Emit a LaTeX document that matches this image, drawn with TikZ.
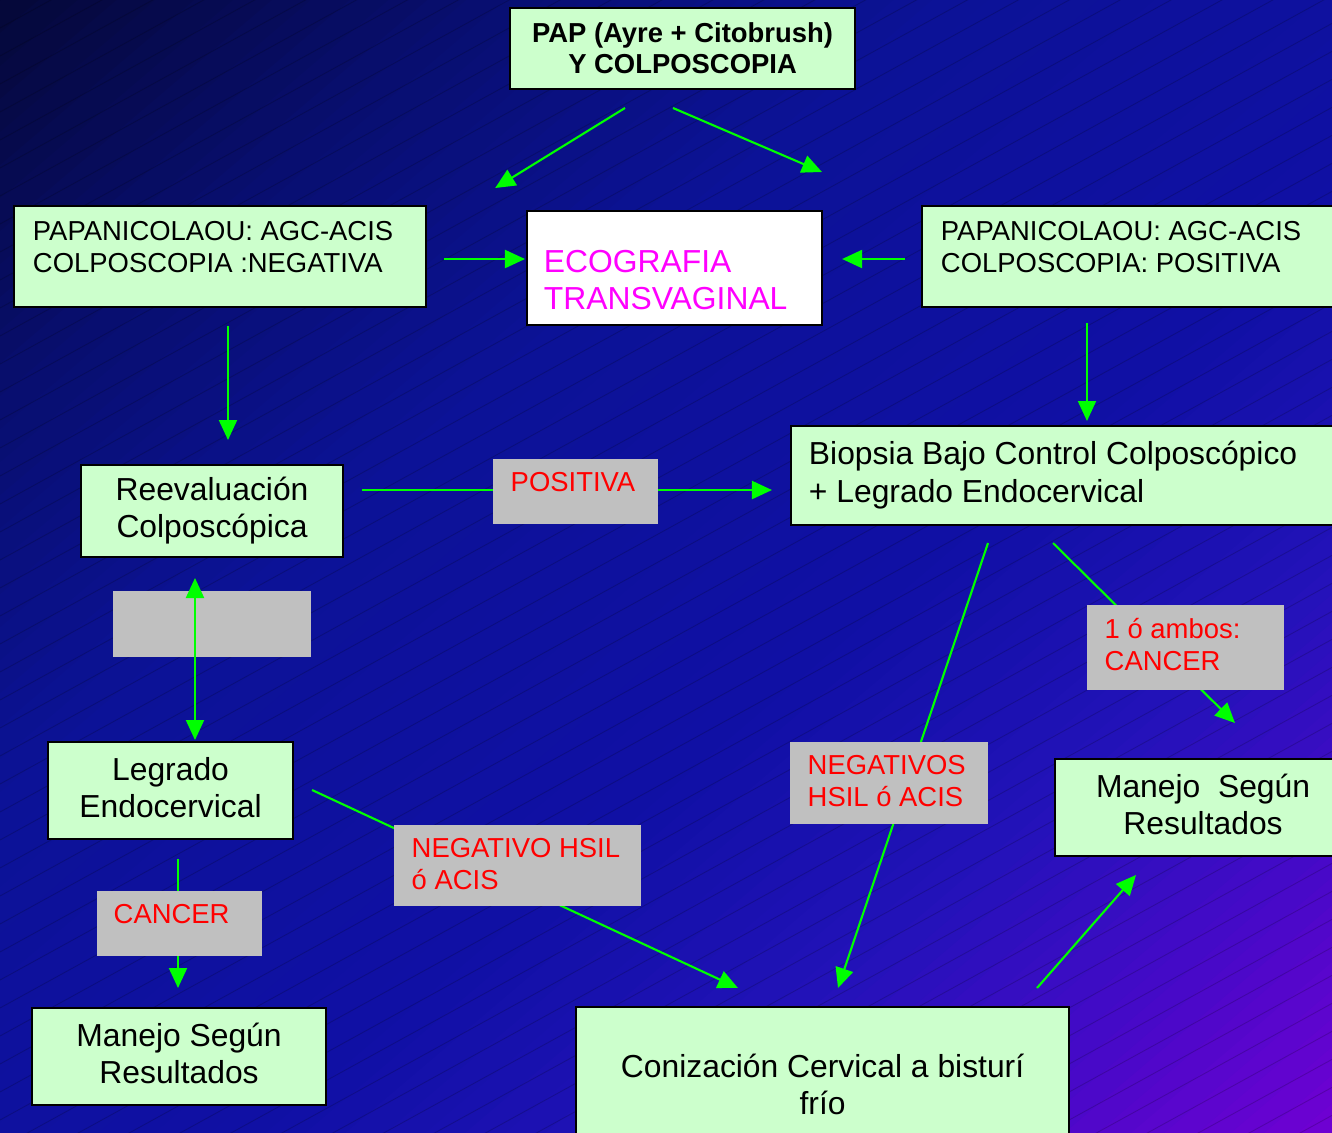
\documentclass[tikz,border=0pt]{standalone}
\usepackage{fontspec}
\setmainfont{Liberation Sans}
\usetikzlibrary{arrows.meta,calc}
\definecolor{boxg}{RGB}{204,255,204}
\definecolor{grayb}{RGB}{192,192,192}
\definecolor{arrg}{RGB}{0,255,0}
\definecolor{magt}{RGB}{255,0,255}
\definecolor{bga}{RGB}{5,8,56}
\definecolor{bgb}{RGB}{8,14,110}
\definecolor{bgc}{RGB}{12,18,150}
\definecolor{bgd}{RGB}{16,16,165}
\definecolor{bge}{RGB}{35,18,185}
\definecolor{bgf}{RGB}{70,10,200}
\definecolor{bgg}{RGB}{112,0,210}
\newcommand\fsm{\fontsize{7.8pt}{9.1pt}\selectfont}
\newcommand\fbg{\fontsize{9.05pt}{10.55pt}\selectfont}
\newcommand\dpx{\rule[-0.06cm]{0pt}{0pt}}
\newcommand\tlt[5]{\parbox[c][#2cm][t]{#1cm}{\vspace*{#4cm}\raggedright\leftskip=#3cm\relax #5}}
\newcommand\bgseg[5]{\foreach \k in {1,...,#5}{%
  \pgfmathsetmacro\sa{#1+(#2-#1)*(\k-1)/#5}%
  \pgfmathsetmacro\sb{#1+(#2-#1)*\k/#5+0.003}%
  \pgfmathsetmacro\pc{100*(\k-0.5)/#5}%
  \fill[#4!\pc!#3] (1332*\sa,0) -- (1332*\sb,0) -- (0,1132*\sb) -- (0,1132*\sa) -- cycle;}}
\begin{document}
\begin{tikzpicture}[x=0.01cm,y=-0.01cm,
  gbox/.style={draw=black, line width=0.55pt, fill=boxg, inner sep=0pt, anchor=north west},
  cbox/.style={gbox, align=center, font=\fbg},
  greyl/.style={fill=grayb, inner sep=0pt, anchor=north west, text=red, font=\fsm},
  conn/.style={draw=arrg, line width=0.6pt, -{Triangle[length=0.2cm,width=0.18cm]}},
  connb/.style={draw=arrg, line width=0.6pt, {Triangle[length=0.2cm,width=0.18cm]}-{Triangle[length=0.2cm,width=0.18cm]}}]
\useasboundingbox (0,0) rectangle (1332,1132);
\clip (0,0) rectangle (1332,1132);
% background
\bgseg{0}{0.35}{bga}{bgb}{12}
\bgseg{0.35}{0.7}{bgb}{bgc}{12}
\bgseg{0.7}{1.2}{bgc}{bgd}{12}
\bgseg{1.2}{1.5}{bgd}{bge}{10}
\bgseg{1.5}{1.75}{bge}{bgf}{10}
\bgseg{1.75}{2.0}{bgf}{bgg}{10}
\foreach \c in {0,28,...,1876} \draw[black, opacity=0.18, line width=0.25pt] (0,\c) -- (1332,\c-732.6);
% green boxes
\node[cbox, font=\bfseries\fontsize{7.8pt}{8.8pt}\selectfont, minimum width=3.45cm, minimum height=0.81cm] (pap) at (509,7) {PAP (Ayre + Citobrush)\\Y COLPOSCOPIA};
\node[gbox, font=\fsm] (lpap) at (13,205) {\tlt{4.12}{1.01}{0.19}{0.15}{PAPANICOLAOU: AGC-ACIS\\COLPOSCOPIA :NEGATIVA}};
\node[gbox, fill=white, text=magt, font=\fbg] (eco) at (526,210) {\tlt{2.95}{1.14}{0.17}{0.39}{ECOGRAFIA\\TRANSVAGINAL}};
\node[gbox, font=\fsm] (rpap) at (921,205) {\tlt{4.30}{1.01}{0.19}{0.15}{PAPANICOLAOU: AGC-ACIS\\COLPOSCOPIA: POSITIVA}};
\node[cbox, minimum width=2.62cm, minimum height=0.92cm] (reev) at (80,464) {Reevaluación\\Colposcópica};
\node[gbox, font=\fbg] (biop) at (790,425) {\tlt{5.60}{0.99}{0.18}{0.155}{Biopsia Bajo Control Colposcópico\\+ Legrado Endocervical}};
\node[cbox, minimum width=2.45cm, minimum height=0.97cm] (legr) at (47,741) {Legrado\\Endocervical\dpx};
\node[cbox, minimum width=2.94cm, minimum height=0.97cm] (manL) at (31,1007) {Manejo Según\\Resultados\dpx};
\node[cbox, minimum width=2.96cm, minimum height=0.97cm] (manR) at (1054,758) {Manejo\ \ Según\\Resultados\dpx};
\node[cbox, minimum width=4.93cm, minimum height=1.55cm] (coni) at (575,1006) {Conización Cervical a bisturí\\frío};
% connectors
\draw[conn] ($(pap.south west)+(116,18)$) -- ($(lpap.north east)+(68,-17)$);
\draw[conn] ($(pap.south west)+(164,18)$) -- ($(rpap.north west)+(-99,-33)$);
\draw[conn] ($(lpap.north east)+(17,54)$) -- ($(eco.north west)+(-1,49)$);
\draw[conn] ($(rpap.north west)+(-16,54)$) -- ($(eco.north east)+(19,49)$);
\draw[conn] ($(lpap.south west)+(215,18)$) -- ($(reev.north west)+(148,-24)$);
\draw[conn] ($(rpap.south west)+(166,15)$) -- ($(biop.north west)+(297,-4)$);
\draw[conn] ($(reev.north east)+(18,26)$) -- ($(biop.north west)+(-18,65)$);
\draw[conn] ($(legr.south west)+(131,19)$) -- ($(manL.north west)+(147,-19)$);
\draw[conn] ($(legr.north east)+(18,49)$) -- ($(coni.north west)+(163,-18)$);
\draw[conn] ($(biop.south west)+(198,17)$) -- ($(coni.north west)+(263,-18)$);
\draw[conn] ($(biop.south west)+(263,17)$) -- ($(manR.north west)+(181,-35)$);
\draw[conn] ($(coni.north west)+(462,-18)$) -- ($(manR.south west)+(82,18)$);
% grey labels
\node[greyl] (gpos) at (492,458) {\tlt{1.65}{0.65}{0.18}{0.14}{POSITIVA}};
\node[greyl, minimum width=1.98cm, minimum height=0.66cm] (gblank) at (112,590) {};
\node[greyl] (gcan) at (96,890) {\tlt{1.65}{0.65}{0.17}{0.14}{CANCER}};
\node[greyl] (gneg1) at (393,824) {\tlt{2.47}{0.81}{0.18}{0.14}{NEGATIVO HSIL\\ó ACIS}};
\node[greyl] (gneg2) at (789,741) {\tlt{1.98}{0.82}{0.18}{0.14}{NEGATIVOS\\HSIL ó ACIS}};
\node[greyl] (gamb) at (1086,604) {\tlt{1.97}{0.85}{0.18}{0.14}{1 ó ambos:\\CANCER}};
\draw[connb] ($(reev.south west)+(115,20)$) -- ($(legr.north west)+(148,-1)$);
\end{tikzpicture}
\end{document}
